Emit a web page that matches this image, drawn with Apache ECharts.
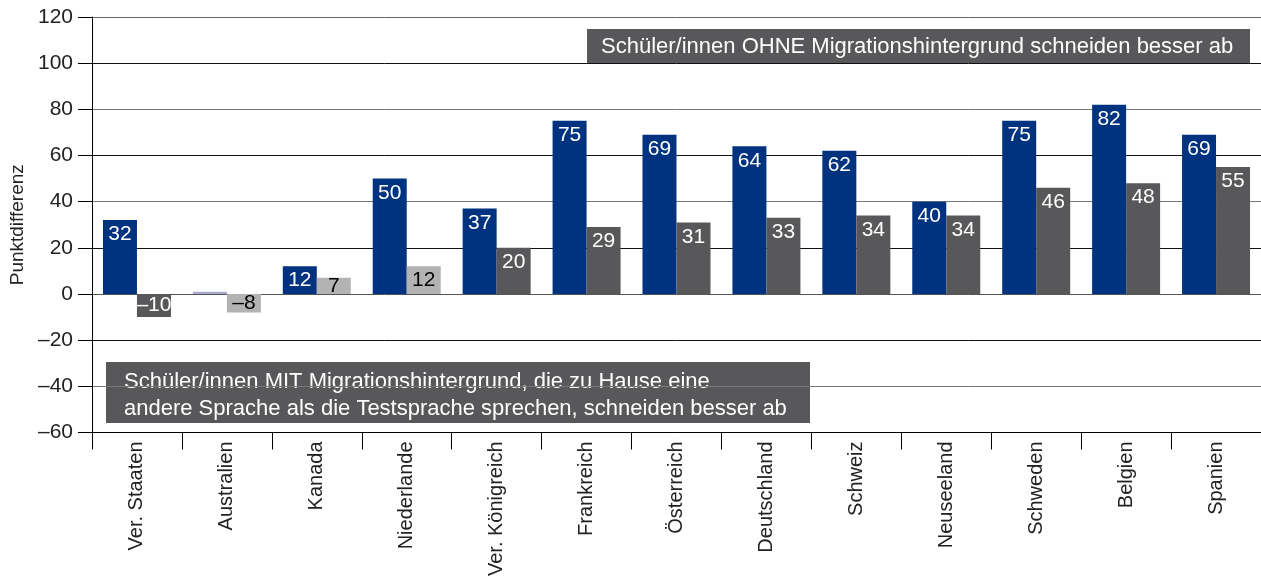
<!DOCTYPE html>
<html>
<head>
<meta charset="utf-8">
<script src="https://cdn.jsdelivr.net/npm/echarts@6/dist/echarts.min.js"></script>
<style>
html, body { margin: 0; padding: 0; background: #fff; }
#canvas { width: 1261px; height: 579px; }
</style>
</head>
<body>
<div id="canvas"></div>
<script>
var countries = ['Ver. Staaten', 'Australien', 'Kanada', 'Niederlande', 'Ver. Königreich', 'Frankreich',
    'Österreich', 'Deutschland', 'Schweiz', 'Neuseeland', 'Schweden', 'Belgien', 'Spanien'];
// Punktdifferenz: Schüler/innen ohne Migrationshintergrund vs. mit (andere Sprache zu Hause)
var allMigrants = [32, 1, 12, 50, 37, 75, 69, 64, 62, 40, 75, 82, 69];
var otherLanguage = [-10, -8, 7, 12, 20, 29, 31, 33, 34, 34, 46, 48, 55];
// lighter shade for the non-significant differences
var blueWeak = [false, true, false, false, false, false, false, false, false, false, false, false, false];
var greyWeak = [false, true, true, true, false, false, false, false, false, false, false, false, false];

var font = '"Liberation Sans", Arial, Helvetica, sans-serif';
var BLUE = '#00337f', BLUE_WEAK = '#a8a8d0', GREY = '#58585a', GREY_WEAK = '#b3b3b3';

var dash = function(v) {
    return v < 0 ? '\u2013' + Math.abs(v) : '' + v;
}

var make_items = function(values, weak, strong, light) {
    var out = [];
    for (var i in values) {
        var v = values[i];
        var w = weak[i];
        out.push({
            value: v,
            itemStyle: {color: w ? light : strong},
            label: {
                show: Math.abs(v) > 2,
                position: Math.abs(v) >= 20 ? 'insideTop' : 'inside',
                color: w ? '#000' : '#fff'
            }
        });
    }
    return out;
}

var myChart = echarts.init(document.getElementById('canvas'));
var option = {
    animation: false,
    grid: {left: 92, right: 0, top: 17, bottom: 143},
    xAxis: {
        type: 'category',
        data: countries,
        axisLine: {show: true, onZero: false, lineStyle: {color: '#000', width: 1}},
        axisTick: {show: true, length: 17, lineStyle: {color: '#000'}},
        axisLabel: {rotate: 90, margin: 9, fontSize: 20, color: '#222', fontFamily: font}
    },
    yAxis: {
        type: 'value',
        min: -60, max: 120, interval: 20,
        name: 'Punktdifferenz',
        nameLocation: 'middle',
        nameGap: 65,
        nameTextStyle: {fontSize: 19, color: '#222', fontFamily: font},
        axisLine: {show: true, lineStyle: {color: '#000', width: 1}},
        axisTick: {show: true, length: 14, lineStyle: {color: '#000'}},
        axisLabel: {fontSize: 21, color: '#222', fontFamily: font, margin: 19, formatter: dash},
        splitLine: {show: true, lineStyle: {color: ['#111', '#777', '#111', '#555', '#111', '#777', '#111', '#777', '#111', '#666'], width: 1}}
    },
    series: [
        {
            name: 'alle',
            type: 'bar',
            barWidth: 34,
            barGap: '0%',
            data: make_items(allMigrants, blueWeak, BLUE, BLUE_WEAK),
            label: {fontSize: 21, fontFamily: font, distance: 4, formatter: function(p) { return dash(p.value); }}
        },
        {
            name: 'andere Sprache',
            type: 'bar',
            barWidth: 34,
            data: make_items(otherLanguage, greyWeak, GREY, GREY_WEAK),
            label: {fontSize: 21, fontFamily: font, distance: 4, formatter: function(p) { return dash(p.value); }}
        }
    ],
    graphic: [
        {
            type: 'group',
            left: 587, top: 29,
            children: [
                {type: 'rect', shape: {x: 0, y: 0, width: 663, height: 34}, style: {fill: GREY}},
                {type: 'text', x: 14, y: 18, style: {
                    text: 'Schüler/innen OHNE Migrationshintergrund schneiden besser ab',
                    fill: '#fff', font: '22px ' + font, verticalAlign: 'middle'
                }}
            ]
        },
        {
            type: 'group',
            left: 106, top: 362,
            children: [
                {type: 'rect', shape: {x: 0, y: 0, width: 704, height: 61}, style: {fill: GREY}},
                {type: 'text', x: 18, y: 33, style: {
                    text: 'Schüler/innen MIT Migrationshintergrund, die zu Hause eine\nandere Sprache als die Testsprache sprechen, schneiden besser ab',
                    fill: '#fff', font: '22px ' + font, lineHeight: 27, verticalAlign: 'middle'
                }}
            ]
        }
    ]
};
myChart.setOption(option);
</script>
</body>
</html>
